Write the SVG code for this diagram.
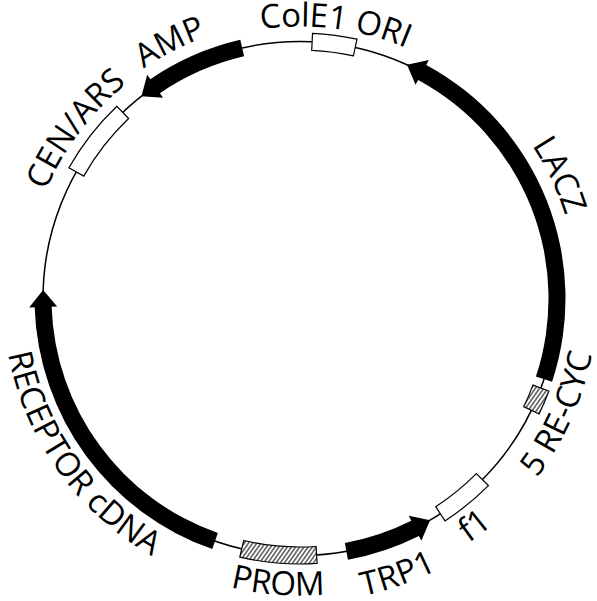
<svg xmlns="http://www.w3.org/2000/svg" width="597" height="601" viewBox="0 0 597 601">
<style>
.bb{fill:none;stroke:#000;stroke-width:1.5}
.bar{fill:#000}
.box{fill:#fff;stroke:#000;stroke-width:1.2}
.hbox{fill:url(#hatch);stroke:#000;stroke-width:1.2}
.lbl{font-family:"Open Sans","DejaVu Sans",sans-serif;font-size:33px;fill:#000;text-anchor:middle}
</style>
<defs>
<pattern id="hatch" width="3.4" height="3.4" patternUnits="userSpaceOnUse" patternTransform="rotate(35)">
<rect width="3.4" height="3.4" fill="#fff"/>
<line x1="1.7" y1="0" x2="1.7" y2="3.4" stroke="#000" stroke-width="1"/>
</pattern>
<path id="cw" d="M 300,574.5 A 276 276 0 1 1 300,22.5 A 276 276 0 1 1 300,574.5"/>
<path id="ccw" d="M 300,1.5 A 297 297 0 1 0 300,595.5 A 297 297 0 1 0 300,1.5"/>
</defs>
<rect width="597" height="601" fill="#fff"/>
<g id="backbone"><circle class="bb" cx="300" cy="298.5" r="257"/></g>
<g id="connectors">
<g id="lacz"><path class="bar" d="M 552.07,381.86 A 265.5 265.5 0 0 0 426.24,64.93 L 428.86,60.10 L 406.98,64.83 L 415.54,84.73 L 418.16,79.89 A 248.5 248.5 0 0 1 535.93,376.53 Z"/></g>
<g id="amp"><path class="bar" d="M 240.28,39.80 A 265.5 265.5 0 0 0 150.33,79.20 L 147.23,74.66 L 141.42,96.26 L 163.02,97.79 L 159.92,93.24 A 248.5 248.5 0 0 1 244.10,56.37 Z"/></g>
<g id="trp1"><path class="bar" d="M 347.93,559.64 A 265.5 265.5 0 0 0 418.91,535.88 L 421.37,540.80 L 430.05,520.17 L 408.83,515.76 L 411.30,520.68 A 248.5 248.5 0 0 1 344.86,542.92 Z"/></g>
<g id="receptor"><path class="bar" d="M 212.25,549.08 A 265.5 265.5 0 0 1 34.64,307.26 L 29.15,307.44 L 43.14,289.98 L 57.13,306.51 L 51.63,306.70 A 248.5 248.5 0 0 0 217.87,533.03 Z"/></g>
</g>
<g id="cole1"><path class="box" d="M 312.51,33.29 A 265.5 265.5 0 0 1 357.01,39.19 L 353.36,55.80 A 248.5 248.5 0 0 0 311.71,50.28 Z"/></g>
<g id="recyc"><path class="hbox" d="M 548.85,391.05 A 265.5 265.5 0 0 1 539.07,414.05 L 523.76,406.65 A 248.5 248.5 0 0 0 532.91,385.12 Z"/></g>
<g id="f1"><path class="box" d="M 488.39,485.58 A 265.5 265.5 0 0 1 444.99,520.91 L 435.71,506.67 A 248.5 248.5 0 0 0 476.33,473.60 Z"/></g>
<g id="prom"><path class="hbox" d="M 317.13,563.45 A 265.5 265.5 0 0 1 239.82,557.09 L 243.68,540.53 A 248.5 248.5 0 0 0 316.04,546.48 Z"/></g>
<g id="cenars"><path class="box" d="M 68.92,167.76 A 265.5 265.5 0 0 1 116.91,106.23 L 128.63,118.54 A 248.5 248.5 0 0 0 83.72,176.13 Z"/></g>
<g id="labels">
<text class="lbl" dy="4"><textPath href="#cw" startOffset="902.2">ColE1 ORI</textPath></text>
<text class="lbl" dy="-2"><textPath href="#cw" startOffset="1177.8">LACZ</textPath></text>
<text class="lbl" dy="-2"><textPath href="#cw" startOffset="737">AMP</textPath></text>
<text class="lbl"><textPath href="#cw" startOffset="611.8">CEN/ARS</textPath></text>
<text class="lbl"><textPath href="#ccw" startOffset="910.2">PROM</textPath></text>
<text class="lbl" dy="7"><textPath href="#ccw" startOffset="1033.6">TRP1</textPath></text>
<text class="lbl"><textPath href="#ccw" startOffset="1127.4">f1</textPath></text>
<text class="lbl"><textPath href="#ccw" startOffset="1275.2">5 RE-CYC</textPath></text>
<text class="lbl"><textPath href="#ccw" startOffset="650">RECEPTOR cDNA</textPath></text>
</g>
</svg>
